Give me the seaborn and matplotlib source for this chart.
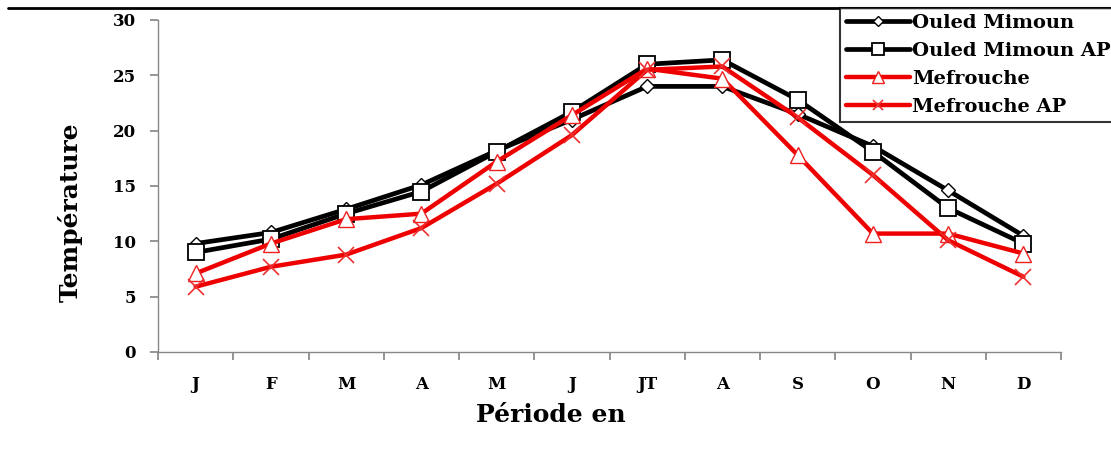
import numpy as np
import pandas as pd
import matplotlib
matplotlib.use("Agg")
import matplotlib.pyplot as plt
import seaborn as sns
from matplotlib.lines import Line2D

months = ["J", "F", "M", "A", "M", "J", "JT", "A", "S", "O", "N", "D"]
ouled_mimoun = [9.8, 10.8, 12.9, 15.1, 18.2, 21.0, 24.0, 24.0, 21.5, 18.6, 14.6, 10.5]
ouled_mimoun_ap = [9.0, 10.2, 12.5, 14.5, 18.1, 21.7, 26.0, 26.4, 22.8, 18.1, 13.0, 9.8]
mefrouche = [7.1, 9.8, 12.0, 12.5, 17.2, 21.4, 25.6, 24.7, 17.8, 10.7, 10.7, 8.9]
mefrouche_ap = [5.9, 7.7, 8.8, 11.2, 15.2, 19.6, 25.5, 25.8, 21.2, 16.0, 10.1, 6.8]
series_names = ["Ouled Mimoun", "Ouled Mimoun AP", "Mefrouche", "Mefrouche AP"]

sns.set_theme(style="white")
plt.rcParams['font.family'] = ['DejaVu Serif']
plt.rcParams['font.weight'] = 'bold'
plt.rcParams['text.color'] = 'black'
plt.rcParams['axes.labelcolor'] = 'black'
plt.rcParams['xtick.color'] = 'black'
plt.rcParams['ytick.color'] = 'black'

fig = plt.figure(figsize=(11.11, 4.59), dpi=100)
ax = fig.add_axes([158/1111, 1-352/459, (1061-158)/1111, (352-20)/459])

x = np.arange(len(months))
styles = [
    dict(color="black", lw=3.4, marker="D", ms=7.5, mfc="white", mec="black", mew=1.0, lms=5),
    dict(color="black", lw=3.4, marker="s", ms=12, mfc="white", mec="black", mew=1.3, lms=9),
    dict(color="#ee0000", lw=3.2, marker="^", ms=11, mfc="white", mec="#ee2020", mew=1.0, lms=8),
    dict(color="#ee0000", lw=3.2, marker="x", ms=12, mfc="none", mec="#ee3030", mew=1.2, lms=7),
]
data = [ouled_mimoun, ouled_mimoun_ap, mefrouche, mefrouche_ap]
handles = []
for name, vals, st in zip(series_names, data, styles):
    df = pd.DataFrame({"x": x, "y": vals})
    sns.lineplot(data=df, x="x", y="y", ax=ax, color=st["color"], linewidth=st["lw"],
                 marker=st["marker"], markersize=st["ms"], markerfacecolor=st["mfc"],
                 markeredgecolor=st["mec"], markeredgewidth=st["mew"], label=name, legend=False)
    handles.append(Line2D([0], [0], color=st["color"], lw=st["lw"], marker=st["marker"],
                          markersize=st["lms"], markerfacecolor=st["mfc"],
                          markeredgecolor=st["mec"], markeredgewidth=st["mew"]))

ax.set_xlim(-0.5, 11.5)
ax.set_ylim(0, 30)
ax.set_yticks(np.arange(0, 31, 5))
ax.set_xticks(np.arange(-0.5, 12, 1))
ax.set_xticklabels([])
ax.set_xticks(x, minor=True)
ax.set_xticklabels(months, minor=True, fontsize=12, fontweight="bold")
ax.tick_params(axis="x", which="major", length=6, color="#888888", direction="out", bottom=True)
ax.tick_params(axis="x", which="minor", length=0, pad=17)
ax.tick_params(axis="y", length=6, color="#888888", direction="out", left=True, labelsize=12, pad=10)
for lab in ax.get_yticklabels():
    lab.set_fontweight("bold")
for s in ["top", "right"]:
    ax.spines[s].set_visible(False)
for s in ["left", "bottom"]:
    ax.spines[s].set_color("#888888")
    ax.spines[s].set_linewidth(1.0)

ax.set_xlabel("Période en", fontsize=18, fontweight="bold")
ax.xaxis.set_label_coords((551-158)/903, (352-403)/332)
ax.set_ylabel("Température", fontsize=18, fontweight="bold")
ax.yaxis.set_label_coords((83-158)/903, (352-212)/332)

leg = fig.legend(handles, series_names, loc="upper left", bbox_to_anchor=(840/1111, 1-8/459),
                 fontsize=14, frameon=True, fancybox=False, edgecolor="black",
                 handlelength=3.3, handletextpad=0.1, borderpad=0.3, labelspacing=0.52,
                 borderaxespad=0)
leg.get_frame().set_linewidth(1.5)
for t in leg.get_texts():
    t.set_fontweight("bold")

fig.add_artist(Line2D([8/1111, 1.0], [1-8/459, 1-8/459], color="black", lw=2, transform=fig.transFigure))

fig.savefig("out.png", dpi=100)
